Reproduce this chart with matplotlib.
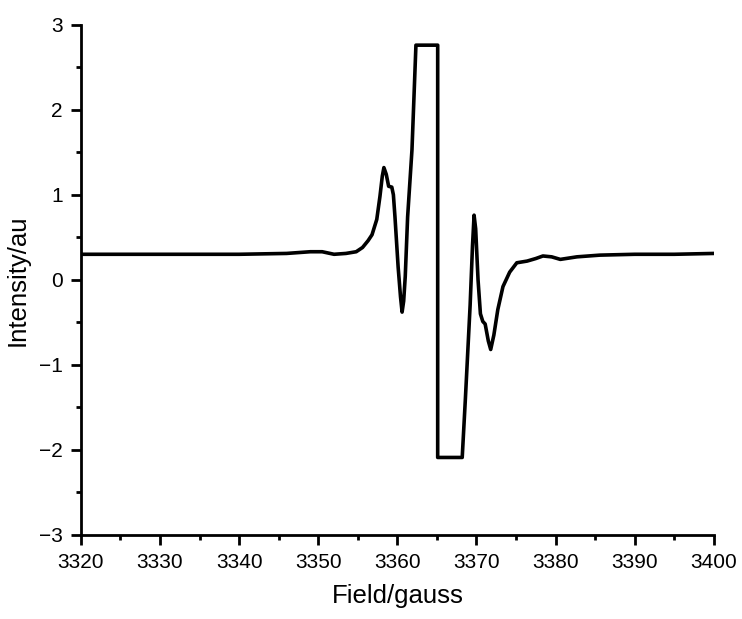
#
# Espectro EPR: intensidad frente a campo
#

import matplotlib
matplotlib.use("Agg")
import matplotlib.pyplot as plt
from matplotlib.ticker import MultipleLocator

plt.rcParams['font.family'] = ['Liberation Sans', 'DejaVu Sans']

campo = [3320, 3330, 3340, 3346, 3349, 3350.5, 3352, 3353.5, 3354.8, 3355.6,
         3356.3, 3356.8, 3357.4, 3357.8, 3358.1, 3358.3, 3358.6, 3358.9, 3359.3,
         3359.5, 3359.7, 3360.1, 3360.4, 3360.6, 3360.8, 3361.0, 3361.3, 3361.85,
         3362.35, 3365.1, 3365.1, 3368.2, 3368.6, 3369.2, 3369.5, 3369.7, 3369.9,
         3370.2, 3370.5, 3370.8, 3371.1, 3371.5, 3371.8, 3372.2, 3372.7, 3373.35,
         3374.2, 3375.1, 3376.4, 3377.5, 3378.4, 3379.5, 3380.6, 3382.7, 3385.6,
         3390, 3395, 3400]
intensidad = [0.30, 0.30, 0.30, 0.31, 0.33, 0.33, 0.30, 0.31, 0.33, 0.38,
              0.46, 0.53, 0.71, 0.98, 1.22, 1.32, 1.24, 1.10, 1.09,
              1.00, 0.74, 0.15, -0.20, -0.38, -0.25, 0.04, 0.74, 1.53,
              2.76, 2.76, -2.09, -2.09, -1.40, -0.30, 0.40, 0.76, 0.60,
              0.00, -0.40, -0.49, -0.52, -0.72, -0.82, -0.65, -0.35, -0.08,
              0.09, 0.20, 0.22, 0.25, 0.28, 0.27, 0.24, 0.27, 0.29,
              0.30, 0.30, 0.31]

#
# Figura
#
fig = plt.figure(figsize=(7.42, 6.19), dpi=100)
ax = fig.add_axes([0.109, 0.136, 0.853, 0.824])

ax.plot(campo, intensidad, color='black', linewidth=2.6, solid_joinstyle='round')

ax.set_xlim(3320, 3400)
ax.set_ylim(-3, 3)
ax.xaxis.set_major_locator(MultipleLocator(10))
ax.xaxis.set_minor_locator(MultipleLocator(5))
ax.yaxis.set_major_locator(MultipleLocator(1))
ax.yaxis.set_minor_locator(MultipleLocator(0.5))

ax.spines['top'].set_visible(False)
ax.spines['right'].set_visible(False)
ax.spines['left'].set_linewidth(2.0)
ax.spines['bottom'].set_linewidth(2.0)

ax.tick_params(which='major', direction='out', length=7, width=2.0, pad=6, labelsize=15)
ax.tick_params(which='minor', direction='out', length=3.5, width=2.0)

# signo menos tipografico en las etiquetas del eje y
ax.set_yticks([-3, -2, -1, 0, 1, 2, 3])
ax.set_yticklabels(['\u22123', '\u22122', '\u22121', '0', '1', '2', '3'])

ax.set_xlabel('Field/gauss', fontsize=18.5, labelpad=9)
ax.set_ylabel('Intensity/au', fontsize=18.5, labelpad=7)

fig.savefig('out.png', dpi=100)
